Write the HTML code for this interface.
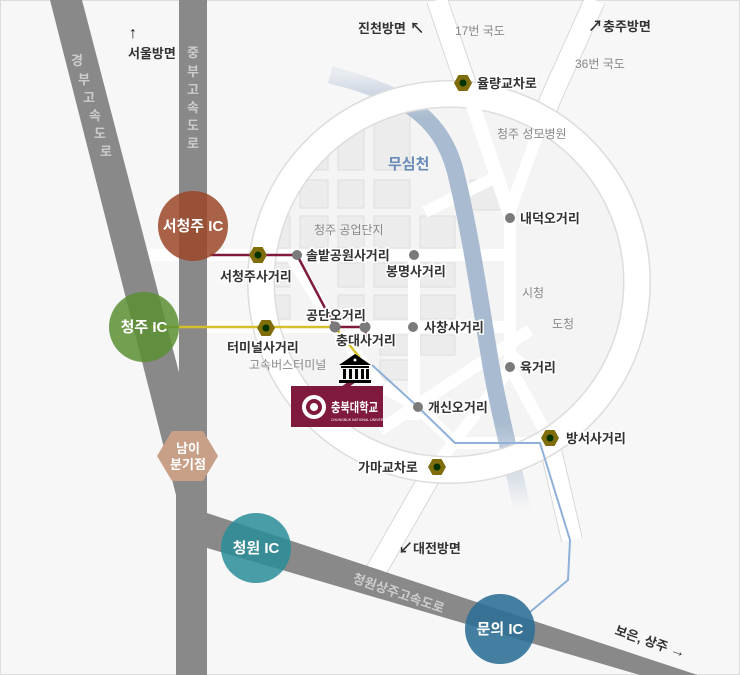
<!DOCTYPE html>
<html><head><meta charset="utf-8"><style>
html,body{margin:0;padding:0;background:#f7f7f7;overflow:hidden;width:740px;height:675px}
svg{display:block}
text{font-family:"Liberation Sans","Noto Sans CJK KR","NanumGothic",sans-serif}
.l{font-size:13px;fill:#333;font-weight:bold;paint-order:stroke;stroke:#fff;stroke-width:3px}
.g{font-size:12px;fill:#888}
.w{font-size:15px;fill:#fff;font-weight:bold}
.hw{font-size:13px;fill:#ccc;font-weight:bold}
</style></head><body>
<svg width="740" height="675" viewBox="0 0 740 675" xmlns="http://www.w3.org/2000/svg">
<defs>
<linearGradient id="rv" x1="0" y1="0" x2="0" y2="1">
<stop offset="0" stop-color="#a9bbd0" stop-opacity="0.2"/>
<stop offset="0.1" stop-color="#a9bbd0"/>
<stop offset="0.8" stop-color="#a9bbd0"/>
<stop offset="1" stop-color="#a9bbd0" stop-opacity="0"/>
</linearGradient>
<clipPath id="dk"><circle cx="449" cy="282" r="176"/></clipPath>
</defs>
<rect x="0.5" y="0.5" width="739" height="674" fill="#f7f7f7" stroke="#ddd"/>
<g stroke="#d8d8d8" stroke-width="22" fill="none">
<path d="M437,0 L466,85 L510,215 L510,367 L548,437 L572,540"/>
<path d="M595,0 L550,100 L515,200"/>
<path d="M436,466 L365,590"/>
</g>
<g stroke="#fff" stroke-width="20" fill="none">
<path d="M437,0 L466,85 L510,215 L510,367 L548,437 L572,540"/>
<path d="M595,0 L550,100 L515,200"/>
<path d="M436,466 L365,590"/>
</g>
<circle cx="449" cy="282" r="176" fill="#f4f4f4"/>
<g clip-path="url(#dk)">
<g fill="#ececec" stroke="#dedede" stroke-width="1">
<rect x="260" y="110" width="30" height="60"/><rect x="300" y="110" width="28" height="60"/><rect x="338" y="110" width="26" height="60"/><rect x="374" y="110" width="36" height="60"/>
<rect x="260" y="180" width="30" height="28"/><rect x="300" y="180" width="28" height="28"/><rect x="338" y="180" width="26" height="28"/><rect x="374" y="180" width="36" height="28"/>
<rect x="260" y="216" width="30" height="32"/><rect x="300" y="216" width="28" height="32"/><rect x="338" y="216" width="26" height="32"/><rect x="374" y="216" width="36" height="32"/><rect x="420" y="216" width="35" height="32"/>
<rect x="260" y="263" width="30" height="24"/><rect x="338" y="263" width="26" height="24"/><rect x="374" y="263" width="36" height="24"/><rect x="420" y="263" width="35" height="24"/>
<rect x="260" y="295" width="30" height="24"/><rect x="338" y="295" width="26" height="24"/><rect x="374" y="295" width="36" height="24"/><rect x="420" y="295" width="35" height="24"/>
<rect x="380" y="335" width="30" height="20"/><rect x="420" y="335" width="35" height="20"/><rect x="380" y="360" width="30" height="20"/>
<rect x="470" y="180" width="32" height="30"/>
</g>
</g>
<g stroke="#fff" stroke-width="12" fill="none">
<path d="M130,255 H510"/>
<path d="M150,327 H510"/>
<path d="M414,255 V420"/>
<path d="M290,255 L335,327 L380,385 L418,407 L455,443"/>
<path d="M425,212 L500,175"/>
<path d="M436,466 L520,355"/>
<path d="M380,430 L530,330"/>
<path d="M455,443 H540"/>
<path d="M466,85 L510,215 L510,367 L548,437"/>
<path d="M550,100 L510,210"/>
</g>
<path d="M330,75 C400,92 440,115 455,170 C470,230 480,300 490,360 C500,420 515,470 522,510" stroke="url(#rv)" stroke-width="17" fill="none"/>
<circle cx="449" cy="282" r="188" fill="none" stroke="#ddd" stroke-width="28"/>
<circle cx="449" cy="282" r="188" fill="none" stroke="#fff" stroke-width="25"/>
<path d="M466,85 L510,215" stroke="#fff" stroke-width="14"/>
<path d="M50,0 L82,0 L207,480 L207,675 L176,675 L176,495 Z" fill="#898989"/>
<rect x="179" y="0" width="28" height="675" fill="#898989"/>
<path d="M207,513 L740,689 L740,675 L640,675 L207,548 Z" fill="#898989"/>
<g class="hw" text-anchor="middle">
<text x="77" y="65">경</text><text x="84" y="84">부</text><text x="89" y="102">고</text><text x="95" y="120">속</text><text x="100" y="138">도</text><text x="106" y="156">로</text>
<text x="193" y="57">중</text><text x="193" y="76">부</text><text x="193" y="94">고</text><text x="193" y="112">속</text><text x="193" y="130">도</text><text x="193" y="148">로</text>
</g>
<text class="hw" x="352" y="582" transform="rotate(19 352 582)">청원상주고속도로</text>
<path d="M210,255 H297 L335,327 H365" stroke="#7f1a3e" stroke-width="2.5" fill="none"/>
<path d="M150,327 H335 L360,358" stroke="#d4c02a" stroke-width="2.5" fill="none"/>
<path d="M365,327 L368,345" stroke="#7f1a3e" stroke-width="2.5"/>
<path d="M372,365 L418,407 L455,443 H540 L570,540 L568,580 L530,612" stroke="#8fb0d8" stroke-width="2" fill="none"/>
<g fill="#7a7a7a">
<circle cx="297" cy="255" r="5"/><circle cx="414" cy="255" r="5"/><circle cx="335" cy="327" r="5.5"/><circle cx="365" cy="327" r="5.5"/><circle cx="413" cy="327" r="5"/><circle cx="510" cy="218" r="5"/><circle cx="510" cy="367" r="5"/><circle cx="418" cy="407" r="5"/>
</g>
<g>
<g transform="translate(258,255)"><polygon points="-9,0 -4.5,-8 4.5,-8 9,0 4.5,8 -4.5,8" fill="#7e6d0a"/><circle r="3.5" fill="#003300"/></g>
<g transform="translate(266,328)"><polygon points="-9,0 -4.5,-8 4.5,-8 9,0 4.5,8 -4.5,8" fill="#7e6d0a"/><circle r="3.5" fill="#003300"/></g>
<g transform="translate(463,83)"><polygon points="-9,0 -4.5,-8 4.5,-8 9,0 4.5,8 -4.5,8" fill="#7e6d0a"/><circle r="3.5" fill="#003300"/></g>
<g transform="translate(550,438)"><polygon points="-9,0 -4.5,-8 4.5,-8 9,0 4.5,8 -4.5,8" fill="#7e6d0a"/><circle r="3.5" fill="#003300"/></g>
<g transform="translate(437,467)"><polygon points="-9,0 -4.5,-8 4.5,-8 9,0 4.5,8 -4.5,8" fill="#7e6d0a"/><circle r="3.5" fill="#003300"/></g>
</g>
<circle cx="193" cy="226" r="35" fill="#9b4628" opacity="0.85"/>
<text class="w" x="193" y="231" text-anchor="middle">서청주 IC</text>
<circle cx="144" cy="327" r="35" fill="#5b8f33" opacity="0.85"/>
<text class="w" x="144" y="332" text-anchor="middle">청주 IC</text>
<circle cx="256" cy="548" r="35" fill="#2a8d98" opacity="0.85"/>
<text class="w" x="256" y="553" text-anchor="middle">청원 IC</text>
<circle cx="500" cy="629" r="35" fill="#2b6e95" opacity="0.88"/>
<text class="w" x="500" y="634" text-anchor="middle">문의 IC</text>
<polygon points="157,456 172,431 203,431 218,456 203,481 172,481" fill="#c8a088"/>
<text x="188" y="453" text-anchor="middle" style="font-size:13px;fill:#fff;font-weight:bold">남이</text>
<text x="188" y="469" text-anchor="middle" style="font-size:13px;fill:#fff;font-weight:bold">분기점</text>
<polygon points="348,382 356,382 336,396 328,396" fill="#7f1a3e"/>
<rect x="291" y="386" width="92" height="41" fill="#7f1a3e"/>
<circle cx="314" cy="407" r="12" fill="#fff"/><circle cx="314" cy="407" r="8" fill="#7f1a3e"/><circle cx="314" cy="407" r="4" fill="#fff"/>
<text x="331" y="412" style="font-size:13px;fill:#fff;font-weight:bold" textLength="47" lengthAdjust="spacingAndGlyphs">충북대학교</text>
<text x="331" y="421" style="font-size:3.5px;fill:#fff">CHUNGBUK NATIONAL UNIVERSITY</text>
<g fill="#000">
<polygon points="355,354 371,365 339,365"/>
<rect x="341" y="366" width="28" height="2"/>
<rect x="343" y="369" width="3" height="10"/><rect x="349" y="369" width="3" height="10"/><rect x="355" y="369" width="3" height="10"/><rect x="361" y="369" width="3" height="10"/><rect x="366" y="369" width="3" height="10"/>
<rect x="339" y="380" width="32" height="3"/>
</g>
<circle cx="355" cy="360" r="1.5" fill="#fff"/>
<text class="l" x="128" y="58" style="stroke:none">서울방면</text>
<text x="129" y="38" style="font-size:16px;font-weight:bold;fill:#111">↑</text>
<text class="l" x="358" y="33" style="stroke:none">진천방면 <tspan style="font-size:15px">↖</tspan></text>
<text class="g" x="455" y="35">17번 국도</text>
<text class="l" x="588" y="31" style="stroke:none"><tspan style="font-size:15px">↗</tspan>충주방면</text>
<text class="g" x="575" y="68">36번 국도</text>
<text class="l" x="477" y="88">율량교차로</text>
<text class="g" x="497" y="138">청주 성모병원</text>
<text x="388" y="169" style="font-size:15px;fill:#6a8bb8;font-weight:bold">무심천</text>
<text class="l" x="520" y="223">내덕오거리</text>
<text class="g" x="314" y="234">청주 공업단지</text>
<text class="l" x="306" y="260">솔밭공원사거리</text>
<text class="l" x="386" y="276">봉명사거리</text>
<text class="l" x="220" y="281">서청주사거리</text>
<text class="g" x="522" y="297">시청</text>
<text class="g" x="552" y="328">도청</text>
<text class="l" x="306" y="320">공단오거리</text>
<text class="l" x="424" y="332">사창사거리</text>
<text class="l" x="336" y="345">충대사거리</text>
<text class="l" x="227" y="352">터미널사거리</text>
<text class="g" x="249" y="369">고속버스터미널</text>
<text class="l" x="520" y="372">육거리</text>
<text class="l" x="428" y="412">개신오거리</text>
<text class="l" x="566" y="443">방서사거리</text>
<text class="l" x="358" y="472">가마교차로</text>
<text class="l" x="398" y="553" style="stroke:none"><tspan style="font-size:15px">↙</tspan>대전방면</text>
<text class="l" x="614" y="634" transform="rotate(19 614 634)" style="stroke:none">보은, 상주 <tspan style="font-size:15px">→</tspan></text>
</svg>
</body></html>
